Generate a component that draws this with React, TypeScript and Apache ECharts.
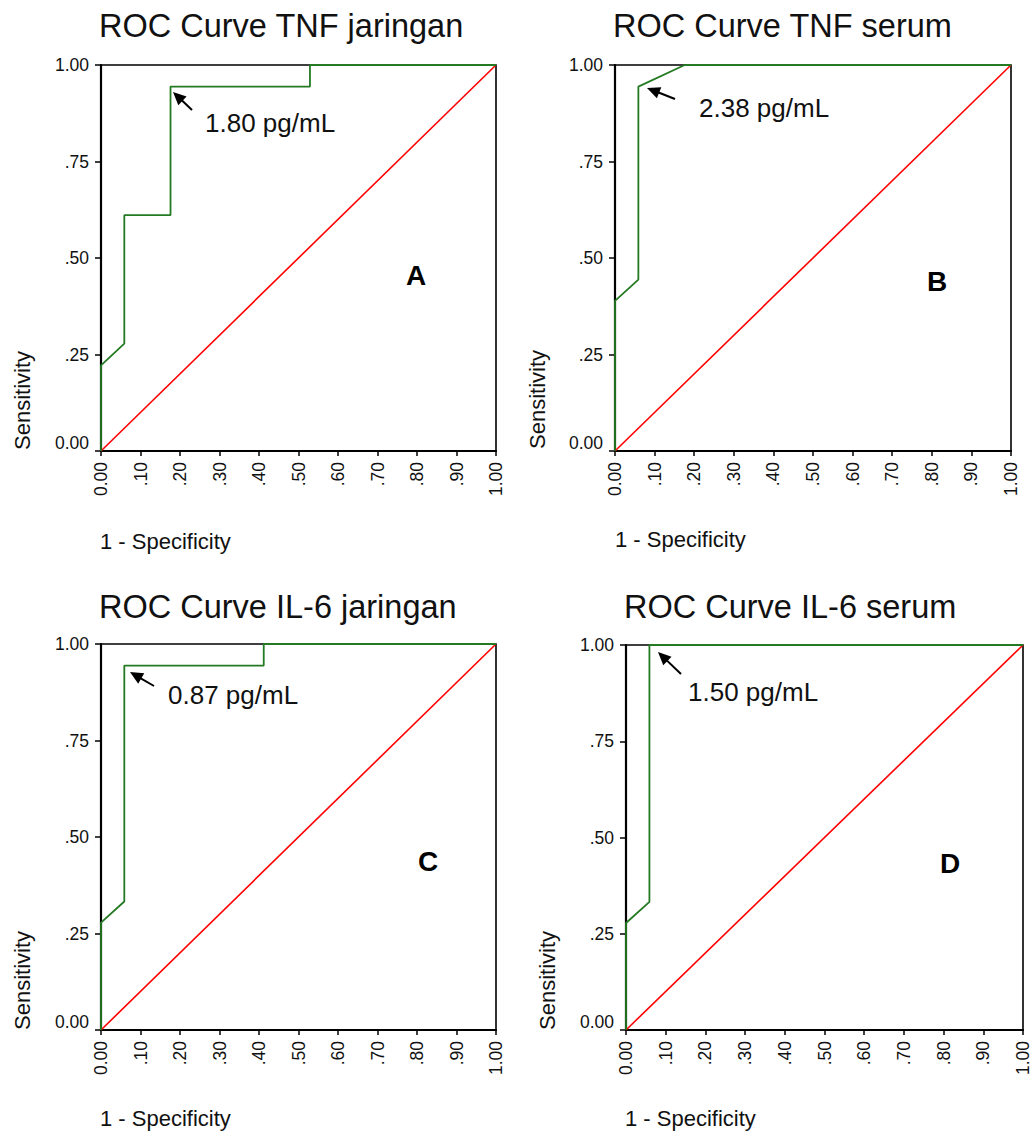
import React, { useEffect, useRef } from "react";
import * as echarts from "echarts";

// ---- Data ----
const panelTitles = [
  "ROC Curve TNF jaringan",
  "ROC Curve TNF serum",
  "ROC Curve IL-6 jaringan",
  "ROC Curve IL-6 serum",
];
const panelLetters = ["A", "B", "C", "D"];
const cutoffLabels = ["1.80 pg/mL", "2.38 pg/mL", "0.87 pg/mL", "1.50 pg/mL"];

// 1 - specificity (x) and sensitivity (y) for each ROC curve
const fprA = [0, 0, 0.059, 0.059, 0.176, 0.176, 0.529, 0.529, 1];
const tprA = [0, 0.222, 0.278, 0.611, 0.611, 0.944, 0.944, 1, 1];

const fprB = [0, 0, 0.059, 0.059, 0.176, 1];
const tprB = [0, 0.389, 0.444, 0.944, 1, 1];

const fprC = [0, 0, 0.059, 0.059, 0.412, 0.412, 1];
const tprC = [0, 0.278, 0.333, 0.944, 0.944, 1, 1];

const fprD = [0, 0, 0.059, 0.059, 1];
const tprD = [0, 0.278, 0.333, 1, 1];

// reference (chance) line
const refX = [0, 1];
const refY = [0, 1];

const curvesX = [fprA, fprB, fprC, fprD];
const curvesY = [tprA, tprB, tprC, tprD];

// ---- Layout (pixels) ----
const grids = [
  { left: 101, top: 65, width: 395, height: 386 },
  { left: 615, top: 65, width: 396, height: 386 },
  { left: 101, top: 644, width: 395, height: 386 },
  { left: 626, top: 645, width: 397, height: 385 },
];
const titlePos = [
  { left: 99, top: 9 },
  { left: 613, top: 9 },
  { left: 99, top: 590 },
  { left: 624, top: 590 },
];
const sensPos = [
  { x: 22, y: 450 },
  { x: 537, y: 449 },
  { x: 22, y: 1030 },
  { x: 547, y: 1030 },
];
const specPos = [
  { x: 100, y: 541 },
  { x: 615, y: 539 },
  { x: 100, y: 1118 },
  { x: 625, y: 1118 },
];
const letterPos = [
  { x: 416, y: 275 },
  { x: 937, y: 281 },
  { x: 428, y: 861 },
  { x: 950, y: 863 },
];
const annotTextPos = [
  { x: 205, y: 123 },
  { x: 699, y: 108 },
  { x: 168, y: 695 },
  { x: 688, y: 692 },
];
const arrows = [
  { sx: 192, sy: 110, tx: 173, ty: 92 },
  { sx: 675, sy: 99, tx: 647, ty: 88 },
  { sx: 154, sy: 686, tx: 130, ty: 672 },
  { sx: 681, sy: 674, tx: 658, ty: 652 },
];

const FONT = "'Liberation Sans', Arial, Helvetica, sans-serif";
const GREEN = "#237a23";
const RED = "#ff0000";
const TXT = "#111";

function xFmt(v: number) {
  if (v <= 0.0001) return "0.00";
  if (v >= 0.9999) return "1.00";
  return "." + String(Math.round(v * 100)).padStart(2, "0");
}
function yFmt(v: number) {
  if (v <= 0.0001) return "{z|0.00}";
  if (v >= 0.9999) return "1.00";
  return "." + String(Math.round(v * 100)).padStart(2, "0");
}

function arrowGraphics(a: { sx: number; sy: number; tx: number; ty: number }) {
  const dx = a.tx - a.sx;
  const dy = a.ty - a.sy;
  const len = Math.sqrt(dx * dx + dy * dy);
  const ux = dx / len;
  const uy = dy / len;
  const headLen = 13;
  const halfW = 6;
  const bx = a.tx - ux * headLen;
  const by = a.ty - uy * headLen;
  const px = -uy;
  const py = ux;
  return [
    {
      type: "line",
      shape: { x1: a.sx, y1: a.sy, x2: bx + ux * 2, y2: by + uy * 2 },
      style: { stroke: "#000", lineWidth: 2 },
      z: 100,
    },
    {
      type: "polygon",
      shape: {
        points: [
          [a.tx, a.ty],
          [bx + px * halfW, by + py * halfW],
          [bx - px * halfW, by - py * halfW],
        ],
      },
      style: { fill: "#000" },
      z: 100,
    },
  ];
}

export default function App() {
  const ref = useRef<HTMLDivElement>(null);

  useEffect(() => {
    if (!ref.current) return;
    const chart = echarts.init(ref.current, null, { renderer: "svg" });

    const xAxes = grids.map((_, i) => ({
      type: "value",
      gridIndex: i,
      min: 0,
      max: 1,
      interval: 0.1,
      axisLine: { show: true, onZero: false, lineStyle: { color: "#000", width: 2.2 } },
      axisTick: { show: true, length: 5, lineStyle: { color: "#000", width: 1.5 } },
      splitLine: { show: false },
      axisLabel: {
        rotate: 90,
        margin: 11,
        fontSize: 17.5,
        fontFamily: FONT,
        color: TXT,
        showMinLabel: true,
        showMaxLabel: true,
        formatter: xFmt,
      },
    }));

    const yAxes = grids.map((_, i) => ({
      type: "value",
      gridIndex: i,
      min: 0,
      max: 1,
      interval: 0.25,
      axisLine: { show: true, onZero: false, lineStyle: { color: "#000", width: 2.2 } },
      axisTick: { show: true, length: 6, lineStyle: { color: "#000", width: 1.5 } },
      splitLine: { show: false },
      axisLabel: {
        margin: 12,
        fontSize: 17.5,
        fontFamily: FONT,
        color: TXT,
        showMinLabel: true,
        showMaxLabel: true,
        formatter: yFmt,
        rich: {
          z: { fontSize: 17.5, fontFamily: FONT, color: TXT, padding: [0, 0, 16, 0] },
        },
      },
    }));

    const series: any[] = [];
    grids.forEach((_, i) => {
      series.push({
        type: "line",
        xAxisIndex: i,
        yAxisIndex: i,
        data: refX.map((x, k) => [x, refY[k]]),
        showSymbol: false,
        symbol: "none",
        lineStyle: { color: RED, width: 1.6 },
        z: 3,
      });
      series.push({
        type: "line",
        xAxisIndex: i,
        yAxisIndex: i,
        data: curvesX[i].map((x, k) => [x, curvesY[i][k]]),
        showSymbol: false,
        symbol: "none",
        lineStyle: { color: GREEN, width: 1.8 },
        z: 4,
      });
    });

    const graphic: any[] = [];
    grids.forEach((_, i) => {
      graphic.push({
        type: "text",
        x: sensPos[i].x,
        y: sensPos[i].y,
        rotation: Math.PI / 2,
        style: {
          text: "Sensitivity",
          fontSize: 22,
          fontFamily: FONT,
          fill: TXT,
          align: "left",
          verticalAlign: "middle",
        },
      });
      graphic.push({
        type: "text",
        x: specPos[i].x,
        y: specPos[i].y,
        style: {
          text: "1 - Specificity",
          fontSize: 22,
          fontFamily: FONT,
          fill: TXT,
          align: "left",
          verticalAlign: "middle",
        },
      });
      graphic.push({
        type: "text",
        x: letterPos[i].x,
        y: letterPos[i].y,
        z: 100,
        style: {
          text: panelLetters[i],
          fontSize: 28,
          fontWeight: "bold",
          fontFamily: FONT,
          fill: "#000",
          align: "center",
          verticalAlign: "middle",
        },
      });
      graphic.push({
        type: "text",
        x: annotTextPos[i].x,
        y: annotTextPos[i].y,
        z: 100,
        style: {
          text: cutoffLabels[i],
          fontSize: 26,
          fontFamily: FONT,
          fill: TXT,
          align: "left",
          verticalAlign: "middle",
        },
      });
      graphic.push(...arrowGraphics(arrows[i]));
    });

    chart.setOption({
      animation: false,
      backgroundColor: "#fff",
      title: panelTitles.map((t, i) => ({
        text: t,
        left: titlePos[i].left,
        top: titlePos[i].top,
        padding: 0,
        textStyle: { fontSize: 32.5, fontWeight: "normal", fontFamily: FONT, color: TXT },
      })),
      grid: grids.map((g) => ({
        ...g,
        show: true,
        borderColor: "#000",
        borderWidth: 1.6,
        backgroundColor: "transparent",
        containLabel: false,
      })),
      xAxis: xAxes,
      yAxis: yAxes,
      series,
      graphic,
    });

    return () => chart.dispose();
  }, []);

  return (
    <div
      ref={ref}
      style={{ position: "absolute", left: 0, top: 0, width: 1032, height: 1135 }}
    />
  );
}
